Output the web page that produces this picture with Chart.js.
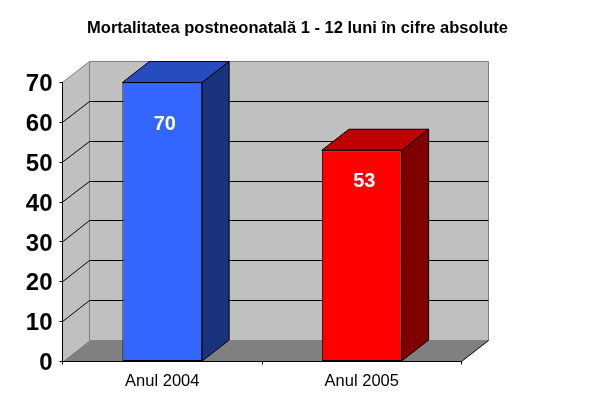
<!DOCTYPE html>
<html lang="ro">
<head>
<meta charset="utf-8">
<title>Mortalitatea postneonatală</title>
<script src="https://cdn.jsdelivr.net/npm/chart.js@4/dist/chart.umd.min.js"></script>
<style>
    html, body { margin: 0; padding: 0; background: #fff; }
    canvas { display: block; }
</style>
</head>
<body>
<canvas id="grafic" width="606" height="410"></canvas>
<script>
const titlu = 'Mortalitatea postneonatală 1 - 12 luni în cifre absolute';
const categorii = ['Anul 2004', 'Anul 2005'];
const valori = [70, 53];
const axaY = [0, 10, 20, 30, 40, 50, 60, 70];

const culoriFata = ['#3366FF', '#FF0000'];
const culoriSus = ['#264CBF', '#BF0000'];
const culoriLatura = ['#19337F', '#7F0000'];

const FONT = '"Liberation Sans", Arial, sans-serif';
const ADANCIME_X = 27;
const ADANCIME_Y = 21;

function poligon(ctx, puncte, umplere, contur) {
    ctx.beginPath();
    puncte.forEach((p, i) => i ? ctx.lineTo(p[0], p[1]) : ctx.moveTo(p[0], p[1]));
    ctx.closePath();
    if (umplere) {
        ctx.fillStyle = umplere;
        ctx.fill();
    }
    if (contur) {
        ctx.strokeStyle = contur;
        ctx.lineWidth = 1;
        ctx.stroke();
    }
}

function linie(ctx, puncte, culoare) {
    ctx.beginPath();
    puncte.forEach((p, i) => i ? ctx.lineTo(p[0], p[1]) : ctx.moveTo(p[0], p[1]));
    ctx.strokeStyle = culoare;
    ctx.lineWidth = 1;
    ctx.stroke();
}

// Peretii si podeaua, desenate din scalele graficului
const pereti = {
    id: 'pereti',
    afterLayout(chart) {
        // titlul e centrat pe pagina, nu pe zona graficului
        chart.titleBlock.left = 0;
        chart.titleBlock.right = 595;
        // etichetele axei Y stau putin mai jos decat liniutele
        chart.scales.y.getLabelItems().forEach(e => { e.options.translation[1] += 2; });
    },
    beforeDraw(chart) {
        const { ctx, scales: { x, y } } = chart;
        const st = x.left, dr = x.right;
        const sus = y.getPixelForValue(axaY[axaY.length - 1]);
        const jos = y.getPixelForValue(0);
        const dx = ADANCIME_X, dy = ADANCIME_Y;

        ctx.save();
        poligon(ctx, [[st, sus], [st + dx, sus - dy], [st + dx, jos - dy], [st, jos]], '#C0C0C0');
        poligon(ctx, [[st + dx, sus - dy], [dr + dx, sus - dy], [dr + dx, jos - dy], [st + dx, jos - dy]], '#C0C0C0', '#808080');
        linie(ctx, [[st, sus], [st + dx, sus - dy]], '#808080');
        poligon(ctx, [[st, jos], [st + dx, jos - dy], [dr + dx, jos - dy], [dr, jos]], '#808080');
        linie(ctx, [[dr, jos], [dr + dx, jos - dy]], '#000');

        axaY.slice(1, -1).forEach(v => {
            const py = y.getPixelForValue(v);
            const spate = Math.floor(py - dy) + 0.5;
            linie(ctx, [[st, py], [st + dx, spate], [dr + dx, spate]], '#000');
        });
        ctx.restore();
    },
    beforeDatasetsDraw(chart) {
        const { ctx } = chart;
        const dx = ADANCIME_X, dy = ADANCIME_Y;
        ctx.save();
        chart.getDatasetMeta(0).data.forEach((bara, i) => {
            const { x, y, base, width } = bara.getProps(['x', 'y', 'base', 'width']);
            const st = x - width / 2, dr = x + width / 2;
            poligon(ctx, [[st, y], [st + dx, y - dy], [dr + dx, y - dy], [dr, y]], culoriSus[i], '#000');
            poligon(ctx, [[dr, y], [dr + dx, y - dy], [dr + dx, base - dy], [dr, base]], culoriLatura[i], '#000');
        });
        ctx.restore();
    },
    afterDatasetsDraw(chart) {
        const { ctx, scales: { y } } = chart;
        ctx.save();
        ctx.fillStyle = '#fff';
        ctx.font = 'bold 20px ' + FONT;
        ctx.textAlign = 'center';
        ctx.textBaseline = 'middle';
        chart.getDatasetMeta(0).data.forEach((bara, i) => {
            // eticheta sta la 85% din inaltime, usor spre dreapta
            ctx.fillText(String(valori[i]), bara.x + 2.5, y.getPixelForValue(valori[i] * 0.85));
        });
        ctx.restore();
    }
};

new Chart(document.getElementById('grafic'), {
    type: 'bar',
    data: {
        labels: categorii,
        datasets: [{
            data: valori,
            backgroundColor: culoriFata,
            borderColor: '#000',
            borderWidth: 1,
            borderSkipped: false,
            barPercentage: 0.4,
            categoryPercentage: 1
        }]
    },
    plugins: [pereti],
    options: {
        responsive: false,
        animation: false,
        layout: { padding: { left: 0, right: 144.5, top: 0, bottom: 0 } },
        plugins: {
            legend: { display: false },
            tooltip: { enabled: false },
            title: {
                display: true,
                text: titlu,
                color: '#000',
                font: { family: FONT, size: 16.5, weight: 'bold', lineHeight: 1 },
                padding: { top: 20, bottom: 46 }
            }
        },
        scales: {
            x: {
                grid: { drawOnChartArea: false, drawTicks: true, tickLength: 3, color: '#000' },
                border: { color: '#000' },
                ticks: { color: '#000', font: { family: FONT, size: 16.5 }, padding: 7, maxRotation: 0 },
                afterFit(s) { s.height = 48.5; }
            },
            y: {
                min: axaY[0],
                max: axaY[axaY.length - 1],
                grid: { drawOnChartArea: false, drawTicks: true, tickLength: 3, color: '#000' },
                border: { color: '#000' },
                ticks: { stepSize: 10, color: '#000', font: { family: FONT, size: 24, weight: 'bold' }, padding: 7 },
                afterFit(s) { s.width = 62.5; }
            }
        }
    }
});
</script>
</body>
</html>
